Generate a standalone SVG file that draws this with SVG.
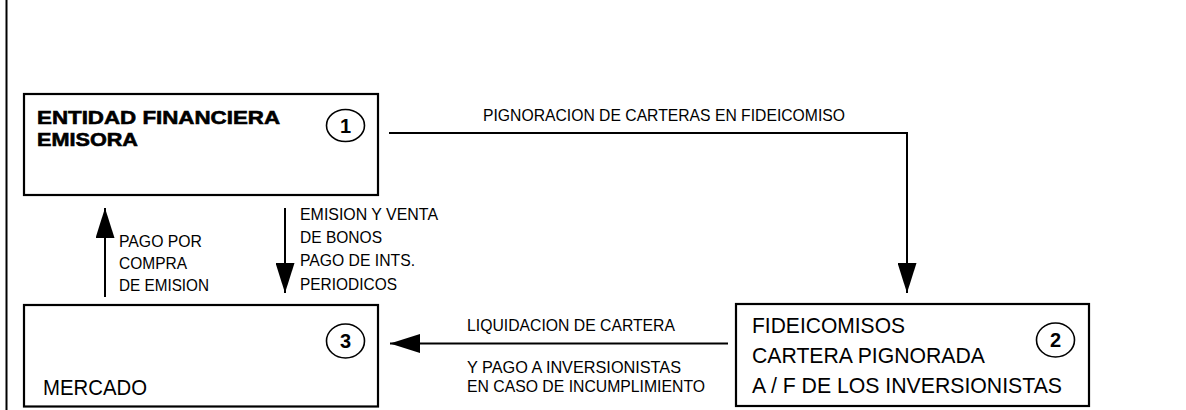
<svg xmlns="http://www.w3.org/2000/svg" width="1186" height="410" viewBox="0 0 1186 410">
<style>
.box{fill:#fff;stroke:#000;stroke-width:2.2}
.circ{fill:none;stroke:#000;stroke-width:1.6}
.conn{fill:none;stroke:#000;stroke-width:2}
.lbl{font-family:"Liberation Sans",Arial,sans-serif;font-size:17px;fill:#000}
.big{font-family:"Liberation Sans",Arial,sans-serif;font-size:22px;fill:#000}
.bold{font-family:"Liberation Sans",Arial,sans-serif;font-size:19px;font-weight:bold;fill:#000;stroke:#000;stroke-width:0.6}
.num{font-family:"Liberation Sans",Arial,sans-serif;font-size:20px;font-weight:bold;fill:#000;text-anchor:middle}
</style>
<defs>
<marker id="ah" markerUnits="userSpaceOnUse" markerWidth="30" markerHeight="19" refX="30" refY="9.5" orient="auto" viewBox="0 0 30 19">
<path d="M0,0 L30,9.5 L0,19 z" fill="#000"/>
</marker>
</defs>
<rect width="1186" height="410" fill="#fff"/>
<line x1="6.5" y1="0" x2="6.5" y2="410" stroke="#000" stroke-width="2"/>

<g id="connectors">
<path class="conn" d="M389,133 H907 V293" marker-end="url(#ah)"/>
<path class="conn" d="M105,297 V208" marker-end="url(#ah)"/>
<path class="conn" d="M285,208 V293" marker-end="url(#ah)"/>
<path class="conn" d="M728,343.5 H390" marker-end="url(#ah)"/>
<text class="lbl" x="483" y="121" textLength="362" lengthAdjust="spacingAndGlyphs">PIGNORACION DE CARTERAS EN FIDEICOMISO</text>
<text class="lbl" x="119" y="246.5" textLength="83" lengthAdjust="spacingAndGlyphs">PAGO POR</text>
<text class="lbl" x="119" y="269" textLength="68" lengthAdjust="spacingAndGlyphs">COMPRA</text>
<text class="lbl" x="119" y="290.5" textLength="90" lengthAdjust="spacingAndGlyphs">DE EMISION</text>
<text class="lbl" x="300" y="219.5" textLength="138" lengthAdjust="spacingAndGlyphs">EMISION Y VENTA</text>
<text class="lbl" x="300" y="243" textLength="82" lengthAdjust="spacingAndGlyphs">DE BONOS</text>
<text class="lbl" x="300" y="266" textLength="115" lengthAdjust="spacingAndGlyphs">PAGO DE INTS.</text>
<text class="lbl" x="300" y="290" textLength="97" lengthAdjust="spacingAndGlyphs">PERIODICOS</text>
<text class="lbl" x="467" y="331" textLength="208" lengthAdjust="spacingAndGlyphs">LIQUIDACION DE CARTERA</text>
<text class="lbl" x="467" y="373" textLength="214" lengthAdjust="spacingAndGlyphs">Y PAGO A INVERSIONISTAS</text>
<text class="lbl" x="467" y="392" textLength="238" lengthAdjust="spacingAndGlyphs">EN CASO DE INCUMPLIMIENTO</text>
</g>

<g id="node1">
<rect class="box" x="24" y="94" width="354" height="101"/>
<text class="bold" x="37" y="123.5" textLength="243" lengthAdjust="spacingAndGlyphs">ENTIDAD FINANCIERA</text>
<text class="bold" x="37" y="145.5" textLength="101" lengthAdjust="spacingAndGlyphs">EMISORA</text>
<ellipse class="circ" cx="345.5" cy="125.5" rx="19" ry="16"/>
<text class="num" x="345.5" y="132.5">1</text>
</g>

<g id="node3">
<rect class="box" x="24" y="305" width="354" height="101.5"/>
<text class="big" x="43" y="395" textLength="104" lengthAdjust="spacingAndGlyphs">MERCADO</text>
<ellipse class="circ" cx="345.5" cy="341" rx="19" ry="17"/>
<text class="num" x="345.5" y="348">3</text>
</g>

<g id="node2">
<rect class="box" x="736" y="304" width="353" height="102"/>
<text class="big" x="752" y="333" textLength="153" lengthAdjust="spacingAndGlyphs">FIDEICOMISOS</text>
<text class="big" x="752" y="363" textLength="233" lengthAdjust="spacingAndGlyphs">CARTERA PIGNORADA</text>
<text class="big" x="752" y="393" textLength="310" lengthAdjust="spacingAndGlyphs">A / F DE LOS INVERSIONISTAS</text>
<ellipse class="circ" cx="1055.5" cy="340" rx="19" ry="17"/>
<text class="num" x="1055.5" y="347">2</text>
</g>
</svg>
